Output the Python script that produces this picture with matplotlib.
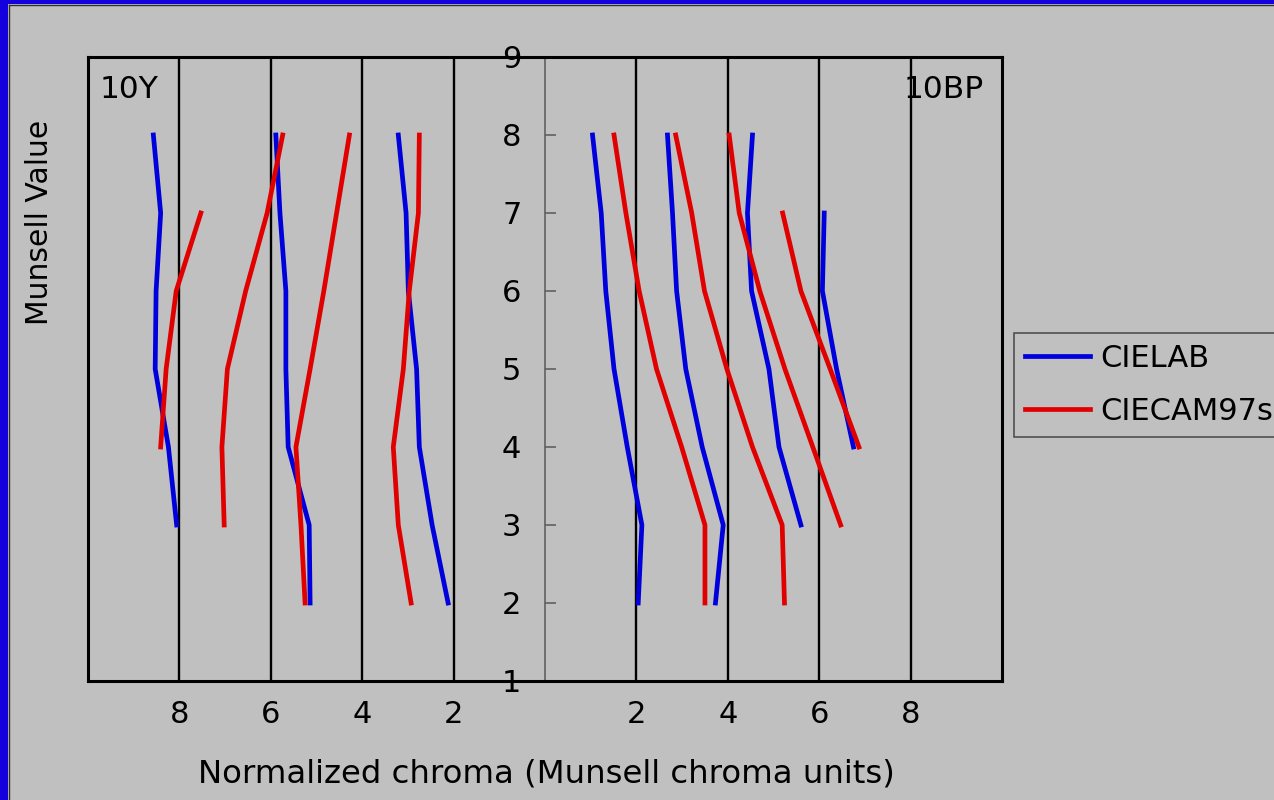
import matplotlib.pyplot as plt
from matplotlib.lines import Line2D
from matplotlib.patches import Rectangle

# ----------------
# Data
# ----------------
# Munsell value levels
values_8_2 = [8, 7, 6, 5, 4, 3, 2]
values_8_3 = [8, 7, 6, 5, 4, 3]
values_7_4 = [7, 6, 5, 4]

# 10Y side (plotted to the left), normalized chroma
lab_y1 = [8.57, 8.41, 8.51, 8.53, 8.24, 8.06]
cam_y1 = [7.53, 8.07, 8.29, 8.41]
lab_y2 = [5.89, 5.80, 5.67, 5.67, 5.62, 5.16, 5.14]
cam_y2 = [5.74, 6.08, 6.55, 6.95, 7.07, 7.02]
cam_y3 = [4.28, 4.56, 4.84, 5.14, 5.45, 5.34, 5.25]
lab_y3 = [3.21, 3.04, 2.99, 2.81, 2.75, 2.47, 2.12]
cam_y4 = [2.75, 2.77, 2.97, 3.10, 3.32, 3.21, 2.93]

# 10BP side (plotted to the right)
lab_b1 = [1.04, 1.23, 1.33, 1.51, 1.80, 2.12, 2.04]
cam_b1 = [1.51, 1.77, 2.06, 2.44, 2.99, 3.50, 3.50]
lab_b2 = [2.68, 2.79, 2.88, 3.08, 3.44, 3.90, 3.73]
cam_b2 = [2.86, 3.21, 3.49, 3.98, 4.54, 5.19, 5.24]
lab_b3 = [4.54, 4.43, 4.52, 4.90, 5.12, 5.60]
cam_b3 = [4.03, 4.25, 4.70, 5.25, 5.86, 6.47]
lab_b4 = [6.11, 6.07, 6.38, 6.75]
cam_b4 = [5.20, 5.60, 6.24, 6.87]

chroma_ticks = [8, 6, 4, 2, 2, 4, 6, 8]
value_ticks = [1, 2, 3, 4, 5, 6, 7, 8, 9]

BLUE = "#0000DD"
RED = "#E00000"
BG = "#C0C0C0"

plt.rcParams["font.family"] = ["DejaVu Sans"]

fig = plt.figure(figsize=(12.74, 8.0), dpi=100, facecolor=BG)

# blue frame (left and top) with thin dark inner line
fig.patches.append(Rectangle((0, 0), 8 / 1274, 1, transform=fig.transFigure,
                             facecolor="#1400DC", edgecolor="none", zorder=0))
fig.patches.append(Rectangle((0, 1 - 4 / 800), 1, 4 / 800, transform=fig.transFigure,
                             facecolor="#1400DC", edgecolor="none", zorder=0))
fig.add_artist(Line2D([8.5 / 1274, 8.5 / 1274], [0, 1 - 4.5 / 800], color="#303030",
                      lw=1, transform=fig.transFigure))
fig.add_artist(Line2D([8.5 / 1274, 1], [1 - 4.5 / 800, 1 - 4.5 / 800], color="#303030",
                      lw=1, transform=fig.transFigure))

ax = fig.add_axes([88 / 1274, 1 - 681 / 800, 914 / 1274, 624 / 800])
ax.set_facecolor(BG)
ax.set_xlim(-10, 10)
ax.set_ylim(1, 9)

# chroma grid lines
for c in [2, 4, 6, 8]:
    ax.axvline(c, color="black", lw=1.7, zorder=1)
    ax.axvline(-c, color="black", lw=1.7, zorder=1)
ax.axvline(-10, color="black", lw=2.2, zorder=3, clip_on=False)

# frame
for side in ["top", "right", "bottom"]:
    ax.spines[side].set_linewidth(2.2)
    ax.spines[side].set_color("black")
ax.spines["left"].set_position(("data", 0))
ax.spines["left"].set_color("#606060")
ax.spines["left"].set_linewidth(1.2)

ax.set_yticks(value_ticks)
ax.tick_params(axis="y", direction="in", length=8, width=1.2, color="#606060",
               pad=17, labelsize=22)
ax.set_xticks([-8, -6, -4, -2, 2, 4, 6, 8])
ax.set_xticklabels([str(c) for c in chroma_ticks])
ax.tick_params(axis="x", length=0, pad=14, labelsize=22)

lw = 3.4
# CIELAB first, then CIECAM97s on top
ax.plot([-c for c in lab_y1], values_8_3, color=BLUE, lw=lw)
ax.plot([-c for c in lab_y2], values_8_2, color=BLUE, lw=lw)
ax.plot([-c for c in lab_y3], values_8_2, color=BLUE, lw=lw)
ax.plot(lab_b1, values_8_2, color=BLUE, lw=lw)
ax.plot(lab_b2, values_8_2, color=BLUE, lw=lw)
ax.plot(lab_b3, values_8_3, color=BLUE, lw=lw)
ax.plot(lab_b4, values_7_4, color=BLUE, lw=lw)

ax.plot([-c for c in cam_y1], values_7_4, color=RED, lw=lw)
ax.plot([-c for c in cam_y2], values_8_3, color=RED, lw=lw)
ax.plot([-c for c in cam_y3], values_8_2, color=RED, lw=lw)
ax.plot([-c for c in cam_y4], values_8_2, color=RED, lw=lw)
ax.plot(cam_b1, values_8_2, color=RED, lw=lw)
ax.plot(cam_b2, values_8_2, color=RED, lw=lw)
ax.plot(cam_b3, values_8_3, color=RED, lw=lw)
ax.plot(cam_b4, values_7_4, color=RED, lw=lw)

# hue labels
ax.text(-9.75, 8.58, "10Y", fontsize=22.5, ha="left", va="center")
ax.text(9.6, 8.58, "10BP", fontsize=22.5, ha="right", va="center")

# axis titles
fig.text(546 / 1274, 1 - 774 / 800, "Normalized chroma (Munsell chroma units)",
         fontsize=23.3, ha="center", va="center")
fig.text(40 / 1274, 1 - 222 / 800, "Munsell Value", fontsize=21.5, rotation=90,
         ha="center", va="center")

# legend (runs off the right edge like the original)
handles = [Line2D([], [], color=BLUE, lw=lw), Line2D([], [], color=RED, lw=lw)]
leg = fig.legend(handles, ["CIELAB", "CIECAM97s"], loc="upper left",
                 bbox_to_anchor=(1014 / 1274, 1 - 333 / 800), borderaxespad=0,
                 fontsize=22, handlelength=2.15, handletextpad=0.33, borderpad=0.35,
                 labelspacing=0.8, fancybox=False, framealpha=1, facecolor=BG,
                 edgecolor="#505050")
leg.get_frame().set_linewidth(1.2)

fig.savefig("out.png", dpi=100, facecolor=BG)
